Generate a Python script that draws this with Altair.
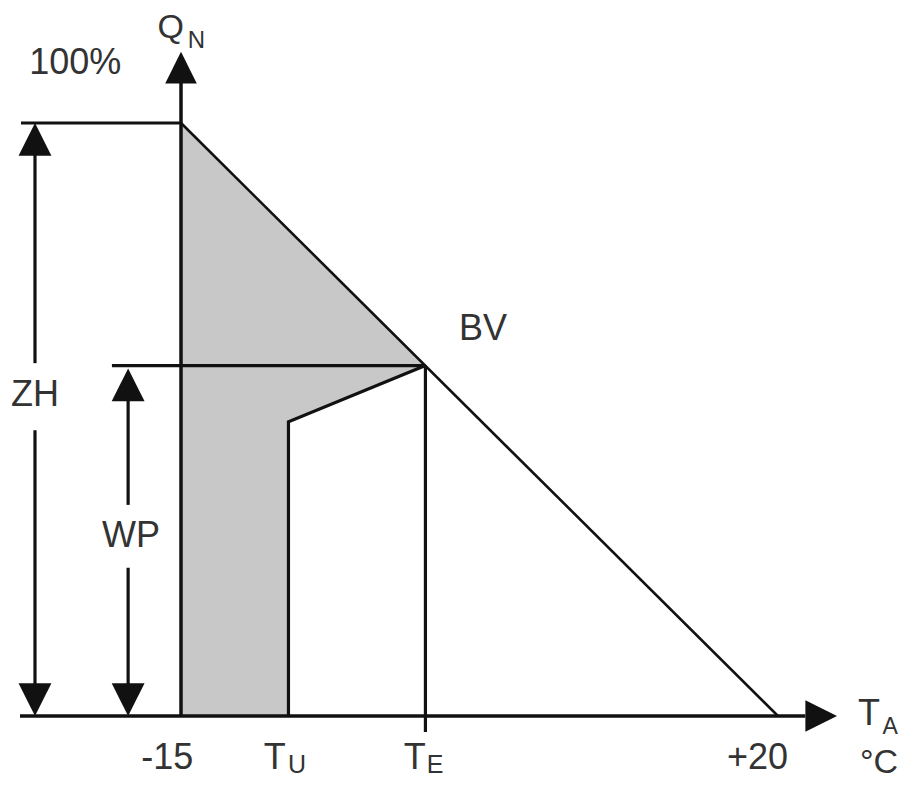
import altair as alt
import pandas as pd

# ---- schematic values (°C on x, % of nominal heat demand on y) ----
T_MIN, T_MAX = -15, 20          # design temperature, heating limit
T_U = -8.7                      # lower operating limit of heat pump
T_E = -0.67                     # bivalence point temperature
Q_MAX = 100                     # 100 % heat demand
Q_BV = 59.1                     # demand at bivalence point (BV)
Q_TU = 49.6                     # heat pump output at T_U

tick_labels = ["-15", "+20"]
tick_pos = [-15.8, 18.8]

# dimension arrows (ZH = auxiliary heating, WP = heat pump)
ZH_X, WP_X = -23.56, -18.1
ZH_GAP = [59.5, 48.2]
WP_GAP = [35.6, 25.0]
WP_TIP = 58.6

# ---- pixel anchors -> scale domain ----
W, H = 892, 771
kx = (778 - 181) / (T_MAX - T_MIN)
ky = (716 - 123) / Q_MAX
xmin = T_MIN - (181 - 8) / kx
xmax = xmin + W / kx
ymax = Q_MAX + (123 - 8) / ky
ymin = ymax - H / ky
xs = alt.Scale(domain=[xmin, xmax], nice=False, zero=False)
ys = alt.Scale(domain=[ymin, ymax], nice=False, zero=False)

# ---- shaded region ----
fill_x = [T_MIN, T_MIN, T_E, T_U, T_U]
fill_y = [0, Q_MAX, Q_BV, Q_TU, 0]
fill_df = pd.DataFrame({"x": fill_x, "y": fill_y, "o": range(len(fill_x))})

# ---- line segments ----
segs = [
    ("yaxis", [T_MIN, T_MIN], [0, 107.3], 3.5),
    ("xaxis", [-24.44, 21.6], [0, 0], 3.5),
    ("top", [-24.38, T_MIN], [Q_MAX, Q_MAX], 3.2),
    ("bv", [-19.05, T_E], [Q_BV, Q_BV], 3.2),
    ("diag", [T_MIN, T_MAX], [Q_MAX, 0], 2.6),
    ("te", [T_E, T_E], [Q_BV, -2.7], 3.2),
    ("tu", [T_U, T_U, T_E], [0, Q_TU, Q_BV], 3.2),
    ("zh1", [ZH_X, ZH_X], [Q_MAX - 3, ZH_GAP[0]], 3.2),
    ("zh2", [ZH_X, ZH_X], [ZH_GAP[1], 3], 3.2),
    ("wp1", [WP_X, WP_X], [WP_TIP - 3, WP_GAP[0]], 3.2),
    ("wp2", [WP_X, WP_X], [WP_GAP[1], 3], 3.2),
]
rows = []
for name, xsx, ysy, w in segs:
    for i, (a, b) in enumerate(zip(xsx, ysy)):
        rows.append({"seg": name, "x": a, "y": b, "o": i, "w": w})
line_df = pd.DataFrame(rows)

# ---- arrowheads ----
UP = "M0,0L-1,2L1,2Z"
DOWN = "M0,0L-1,-2L1,-2Z"
RIGHT = "M0,0L-2,-1L-2,1Z"
heads = [
    (T_MIN, 112.0, UP, 1000),
    (23.46, 0, RIGHT, 1000),
    (ZH_X, Q_MAX, UP, 1080),
    (ZH_X, 0, DOWN, 1080),
    (WP_X, WP_TIP, UP, 1080),
    (WP_X, 0, DOWN, 1080),
]

# ---- labels ----
lab_text = ["100%", "Q", "N", "BV", "ZH", "WP", tick_labels[0], "T", "U", "T", "E",
            tick_labels[1], "T", "A", "°C"]
lab_x = [-21.2, -15.6, -14.1, 2.71, -23.56, -17.93, tick_pos[0], -9.5, -8.2, -1.3, -0.1,
         tick_pos[1], 25.33, 26.57, 25.92]
lab_y = [110.1, 116.0, 113.8, 65.3, 54.1, 30.4, -7.08, -7.08, -8.3, -7.08, -8.3,
         -7.08, 0.34, -1.85, -7.93]
lab_size = [36, 34, 24, 36, 36, 36, 36, 36, 25, 36, 25, 36, 36, 23, 34]
lab_df = pd.DataFrame({"t": lab_text, "x": lab_x, "y": lab_y, "s": lab_size})

X = alt.X("x:Q", scale=xs, axis=None)
Y = alt.Y("y:Q", scale=ys, axis=None)

fill = alt.Chart(fill_df).mark_line(fill="#c8c8c8", stroke=None, strokeWidth=0).encode(
    x=X, y=Y, order="o:Q"
)

lines = alt.Chart(line_df).mark_line(color="#111111", strokeCap="butt").encode(
    x=X, y=Y, detail="seg:N", order="o:Q",
    strokeWidth=alt.StrokeWidth("w:Q", scale=None),
)

head_layers = []
for hx, hy, shp, sz in heads:
    head_layers.append(
        alt.Chart(pd.DataFrame({"x": [hx], "y": [hy]})).mark_point(
            shape=shp, size=sz, filled=True, color="#111111", opacity=1, strokeWidth=0
        ).encode(x=X, y=Y)
    )

labels = alt.Chart(lab_df).mark_text(
    font="Liberation Sans", color="#333333", align="center", baseline="middle"
).encode(x=X, y=Y, text="t:N", size=alt.Size("s:Q", scale=None))

chart = alt.layer(fill, lines, *head_layers, labels).properties(
    width=W, height=H, padding=0,
    autosize=alt.AutoSizeParams(type="none"),
    background="white",
).configure_view(stroke=None)

chart.save("out.html", embed_options={"renderer": "svg", "actions": False})
